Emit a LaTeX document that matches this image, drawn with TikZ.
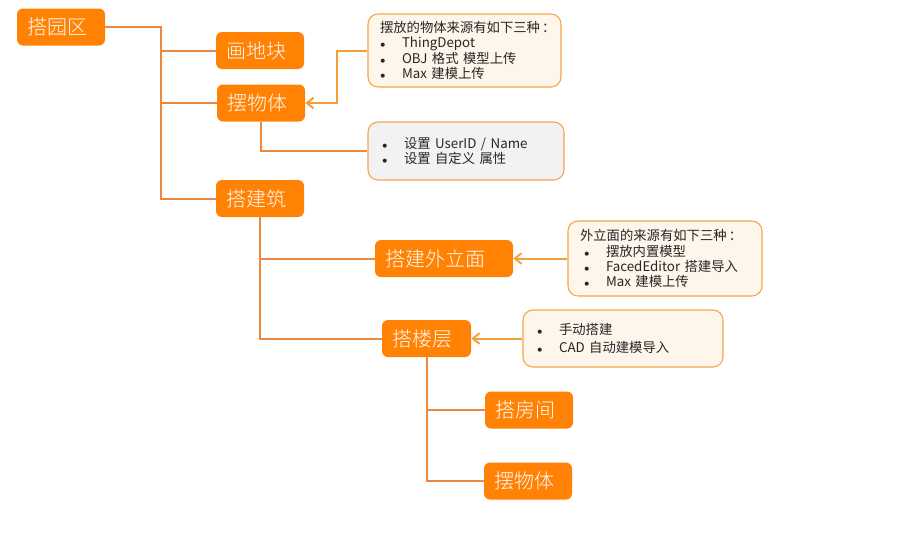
\documentclass[tikz,border=0pt]{standalone}
\usepackage{fontspec}
\setmainfont{Noto Sans CJK SC}
\newfontfamily\boxfont{Noto Sans CJK SC}[UprightFont=* Light]
\usetikzlibrary{arrows.meta, positioning, calc}
\definecolor{c1}{HTML}{FF8205}
\definecolor{c2}{HTML}{EC8840}
\definecolor{c3}{HTML}{F5A54A}
\definecolor{notebg}{HTML}{FEF5EB}
\definecolor{greybg}{HTML}{F2F2F2}
\definecolor{textcolor}{HTML}{262626}
\newcommand{\itemdot}{\makebox[16.5pt][l]{$\scriptstyle\bullet$}}

\begin{document}
\begin{tikzpicture}[
    x=0.75pt, y=-0.75pt,
    blk/.style={rectangle, rounded corners=4.5pt, fill=c1, text=white!96!orange,
                text width=51pt, minimum height=27.75pt, inner xsep=7.5pt,
                inner ysep=0pt, align=left, font=\boxfont\fontsize{15}{17}\selectfont},
    note/.style={rectangle, rounded corners=7.5pt, draw=c3, line width=0.8pt,
                 fill=notebg, text=textcolor, align=left, inner xsep=9pt,
                 inner ysep=0pt, font=\fontsize{10}{11.4}\selectfont},
    link/.style={draw=c2, line width=1.5pt},
    arr/.style={-{Straight Barb[length=5pt, width=8pt]}, draw=c3!80!c1, line width=1.5pt},
]
\useasboundingbox (0,0) rectangle (899,554);

% main tree
\node[blk] (park)   at (61, 27)    {搭园区};
\node[blk] (plot)   at (260, 50.5) {画地块};
\node[blk] (obj)    at (261, 103)  {摆物体};
\node[blk] (build)  at (260, 198.5) {搭建筑};
\node[blk, text width=88.5pt] (facade) at (444, 258.5) {搭建外立面};
\node[blk, text width=51.75pt] (floor)  at (426.5, 338.5) {搭楼层};
\node[blk] (room)   at (529, 410)  {搭房间};
\node[blk] (obj2)   at (528, 481)  {摆物体};

% notes
\node[note, text width=126.75pt, minimum height=54.75pt] (srcobj) at (464.5, 50.5)
    {摆放的物体来源有如下三种\,：\\
     \itemdot ThingDepot\\
     \itemdot OBJ 格式 模型上传\\
     \itemdot Max 建模上传};
\node[note, fill=greybg, text width=129pt, minimum height=43.5pt] (attr) at (466, 151)
    {\hspace{1.5pt}\itemdot 设置 UserID / Name\\
     \hspace{1.5pt}\itemdot 设置 自定义 属性};
\node[note, text width=127.5pt, minimum height=56.25pt] (srcfac) at (665, 258.5)
    {外立面的来源有如下三种\,：\\
     \hspace{3pt}\itemdot 摆放内置模型\\
     \hspace{3pt}\itemdot FacedEditor 搭建导入\\
     \hspace{3pt}\itemdot Max 建模上传};
\node[note, text width=132pt, minimum height=42.75pt] (srcflr) at (623, 338.5)
    {\hspace{1.5pt}\itemdot 手动搭建\\[2pt]
     \hspace{1.5pt}\itemdot CAD 自动建模导入};

% connectors
\coordinate (trunk) at (161, 27);
\coordinate (bend) at (337, 0);
\draw[link] (park.east) -- (trunk) |- (build.west);
\draw[link] (trunk) |- (plot.west);
\draw[link] (trunk) |- (obj.west);
\draw[link] (obj.south) |- (attr.west);
\draw[link] (build.south) |- (floor.west);
\draw[link] (build.south) |- (facade.west);
\draw[link] (floor.south) |- (room.west);
\draw[link] (floor.south) |- (obj2.west);

\draw[arr] (srcobj.west) -| (bend |- obj.east) -- (obj.east);
\draw[arr] (srcfac.west |- facade.east) -- (facade.east);
\draw[arr] (srcflr.west |- floor.east) -- (floor.east);
\end{tikzpicture}
\end{document}
